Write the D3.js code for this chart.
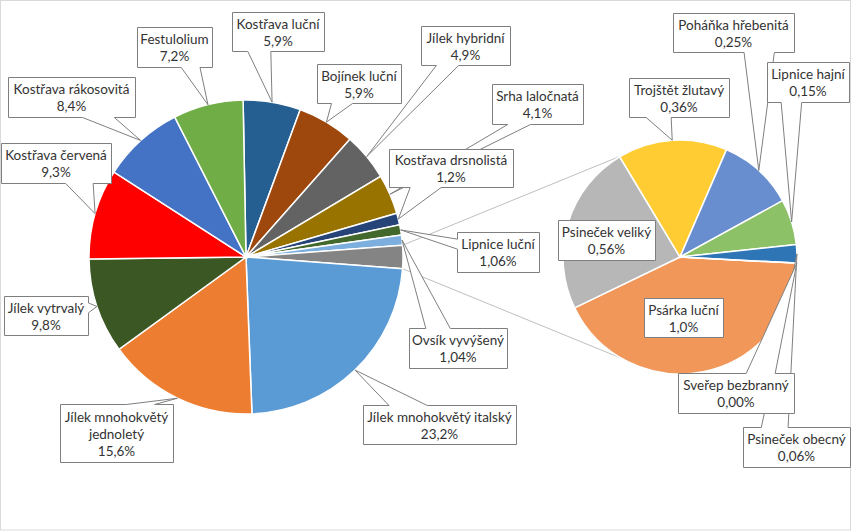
<!DOCTYPE html>
<html>
<head>
<meta charset="utf-8">
<script src="https://cdn.jsdelivr.net/npm/d3@7"></script>
<style>
  body { margin: 0; background: #fff; }
  text { font-family: Lato, "Open Sans", sans-serif; font-size: 13.5px; fill: #333; }
</style>
</head>
<body>
<script>
// main pie, clockwise; "other" is the slice that opens into the small pie
const mainNames = ["Kostřava luční", "Bojínek luční", "Jílek hybridní", "Srha laločnatá",
  "Kostřava drsnolistá", "Lipnice luční", "Ovsík vyvýšený", "other",
  "Jílek mnohokvětý italský", "Jílek mnohokvětý jednoletý", "Jílek vytrvalý",
  "Kostřava červená", "Kostřava rákosovitá", "Festulolium"];
const mainPct = ["5,9%", "5,9%", "4,9%", "4,1%", "1,2%", "1,06%", "1,04%", "",
  "23,2%", "15,6%", "9,8%", "9,3%", "8,4%", "7,2%"];

// second pie
const secNames = ["Psárka luční", "Psineček veliký", "Trojštět žlutavý", "Poháňka hřebenitá",
  "Lipnice hajní", "Psineček obecný", "Sveřep bezbranný"];
const secValues = [1.0, 0.56, 0.36, 0.25, 0.15, 0.06, 0.00];
const secPct = ["1,0%", "0,56%", "0,36%", "0,25%", "0,15%", "0,06%", "0,00%"];

const mainValues = [5.9, 5.9, 4.9, 4.1, 1.2, 1.06, 1.04, d3.sum(secValues),
  23.2, 15.6, 9.8, 9.3, 8.4, 7.2];

const mainColors = ["#255e91", "#9e480e", "#636363", "#997300", "#264478", "#43682b", "#7cafdd",
  "#848484", "#5b9bd5", "#ed7d31", "#3b5724", "#ff0000", "#4472c4", "#70ad47"];
const secColors = ["#f1975a", "#b7b7b7", "#ffcd33", "#698ed0", "#8cc168", "#2e75b6", "#a9d18e"];

// label boxes [x, y, w, h]
const boxes = {
  "Kostřava luční": [232, 12, 92, 39],
  "Bojínek luční": [317, 64, 84, 39],
  "Jílek hybridní": [421, 26, 89, 39],
  "Srha laločnatá": [492, 84, 91, 40],
  "Kostřava drsnolistá": [389, 149, 124, 38],
  "Lipnice luční": [457, 232, 82, 40],
  "Ovsík vyvýšený": [409, 328, 98, 40],
  "Jílek mnohokvětý italský": [363, 405, 153, 39],
  "Jílek mnohokvětý jednoletý": [60, 404, 113, 58],
  "Jílek vytrvalý": [4, 296, 84, 39],
  "Kostřava červená": [1, 143, 110, 40],
  "Kostřava rákosovitá": [8, 77, 127, 40],
  "Festulolium": [137, 27, 75, 40],
  "Psárka luční": [644, 298, 79, 39],
  "Psineček veliký": [558, 220, 97, 40],
  "Trojštět žlutavý": [629, 78, 100, 39],
  "Poháňka hřebenitá": [673, 13, 121, 39],
  "Lipnice hajní": [767, 62, 82, 40],
  "Psineček obecný": [743, 427, 107, 40],
  "Sveřep bezbranný": [678, 373, 116, 40]
};
const noPointer = ["Psárka luční", "Psineček veliký"];
const wrapped = { "Jílek mnohokvětý jednoletý": ["Jílek mnohokvětý", "jednoletý"] };

const width = 852, height = 531;
const main = { cx: 246, cy: 257, r: 157 };
const sec = { cx: 680, cy: 257, r: 117 };

const svg = d3.select("body").append("svg")
  .attr("width", width)
  .attr("height", height);

svg.append("rect")
  .attr("x", 0.5).attr("y", 0.5)
  .attr("width", width - 2).attr("height", height - 1.5)
  .attr("fill", "#fff")
  .attr("stroke", "#d9d9d9");

const rad = (deg) => deg * Math.PI / 180;
const rim = (c, a) => [c.cx + c.r * Math.sin(a), c.cy - c.r * Math.cos(a)];

// rotate main pie so that "other" sits at 3 o'clock
const otherIdx = mainNames.indexOf("other");
const total = d3.sum(mainValues);
const before = d3.sum(mainValues.slice(0, otherIdx)) + mainValues[otherIdx] / 2;
const mainStart = Math.PI / 2 - before / total * 2 * Math.PI;
const secStart = rad(93);

const mainArcs = d3.pie().sort(null).value(d => d)
  .startAngle(mainStart).endAngle(mainStart + 2 * Math.PI)(mainValues);
const secArcs = d3.pie().sort(null).value(d => d)
  .startAngle(secStart).endAngle(secStart + 2 * Math.PI)(secValues);

// connector lines
const oa = mainArcs[otherIdx];
const links = [[rim(main, oa.startAngle), rim(sec, rad(330))],
               [rim(main, oa.endAngle), rim(sec, rad(210))]];
svg.selectAll("line.link")
  .data(links)
  .enter().append("line")
  .attr("class", "link")
  .attr("x1", d => d[0][0]).attr("y1", d => d[0][1])
  .attr("x2", d => d[1][0]).attr("y2", d => d[1][1])
  .attr("stroke", "#bfbfbf")
  .attr("stroke-width", 1);

const drawPie = (c, arcs, colors) => {
  const arc = d3.arc().innerRadius(0).outerRadius(c.r);
  svg.append("g")
    .attr("transform", `translate(${c.cx},${c.cy})`)
    .selectAll("path")
    .data(arcs)
    .enter().append("path")
    .attr("d", arc)
    .attr("fill", (d, i) => colors[i])
    .attr("stroke", "#fff")
    .attr("stroke-width", 1.5);
};
drawPie(main, mainArcs, mainColors);
drawPie(sec, secArcs, secColors);

// wedge callout like the office shape
const calloutPath = (b, tip) => {
  const [x, y, w, h] = b;
  const l = x + 0.5, t = y + 0.5, r = x + w + 0.5, bt = y + h + 0.5;
  const pts = [[l, t]];
  if (!tip) {
    pts.push([r, t], [r, bt], [l, bt]);
    return "M" + pts.join("L") + "Z";
  }
  const hc = (l + r) / 2, vc = (t + bt) / 2;
  const dxPos = tip[0] - hc, dyPos = tip[1] - vc;
  const x1 = l + w * (dxPos > 0 ? 7 : 2) / 12, x2 = l + w * (dxPos > 0 ? 10 : 5) / 12;
  const y1 = t + h * (dyPos > 0 ? 7 : 2) / 12, y2 = t + h * (dyPos > 0 ? 10 : 5) / 12;
  let side;
  if (Math.abs(dxPos * h) > Math.abs(dyPos * w)) side = dxPos > 0 ? "r" : "l";
  else side = dyPos > 0 ? "b" : "t";
  if (side === "t") pts.push([x1, t], tip, [x2, t]);
  pts.push([r, t]);
  if (side === "r") pts.push([r, y1], tip, [r, y2]);
  pts.push([r, bt]);
  if (side === "b") pts.push([x2, bt], tip, [x1, bt]);
  pts.push([l, bt]);
  if (side === "l") pts.push([l, y2], tip, [l, y1]);
  return "M" + pts.join("L") + "Z";
};

const labels = [];
mainArcs.forEach((a, i) => {
  if (i === otherIdx) return;
  labels.push({ name: mainNames[i], pct: mainPct[i], tip: rim(main, (a.startAngle + a.endAngle) / 2) });
});
secArcs.forEach((a, i) => {
  labels.push({ name: secNames[i], pct: secPct[i], tip: rim(sec, (a.startAngle + a.endAngle) / 2) });
});

const lineH = 17;
labels.forEach(d => {
  const b = boxes[d.name];
  const g = svg.append("g");
  g.append("path")
    .attr("d", calloutPath(b, noPointer.includes(d.name) ? null : d.tip))
    .attr("fill", "#fff")
    .attr("stroke", "#7f7f7f")
    .attr("stroke-width", 1);
  const lines = (wrapped[d.name] || [d.name]).concat([d.pct]);
  const y0 = b[1] + (b[3] - lines.length * lineH) / 2 + 14;
  g.selectAll("text")
    .data(lines)
    .enter().append("text")
    .attr("x", b[0] + b[2] / 2)
    .attr("y", (t, k) => y0 + k * lineH)
    .attr("text-anchor", "middle")
    .text(t => t);
});
</script>
</body>
</html>
